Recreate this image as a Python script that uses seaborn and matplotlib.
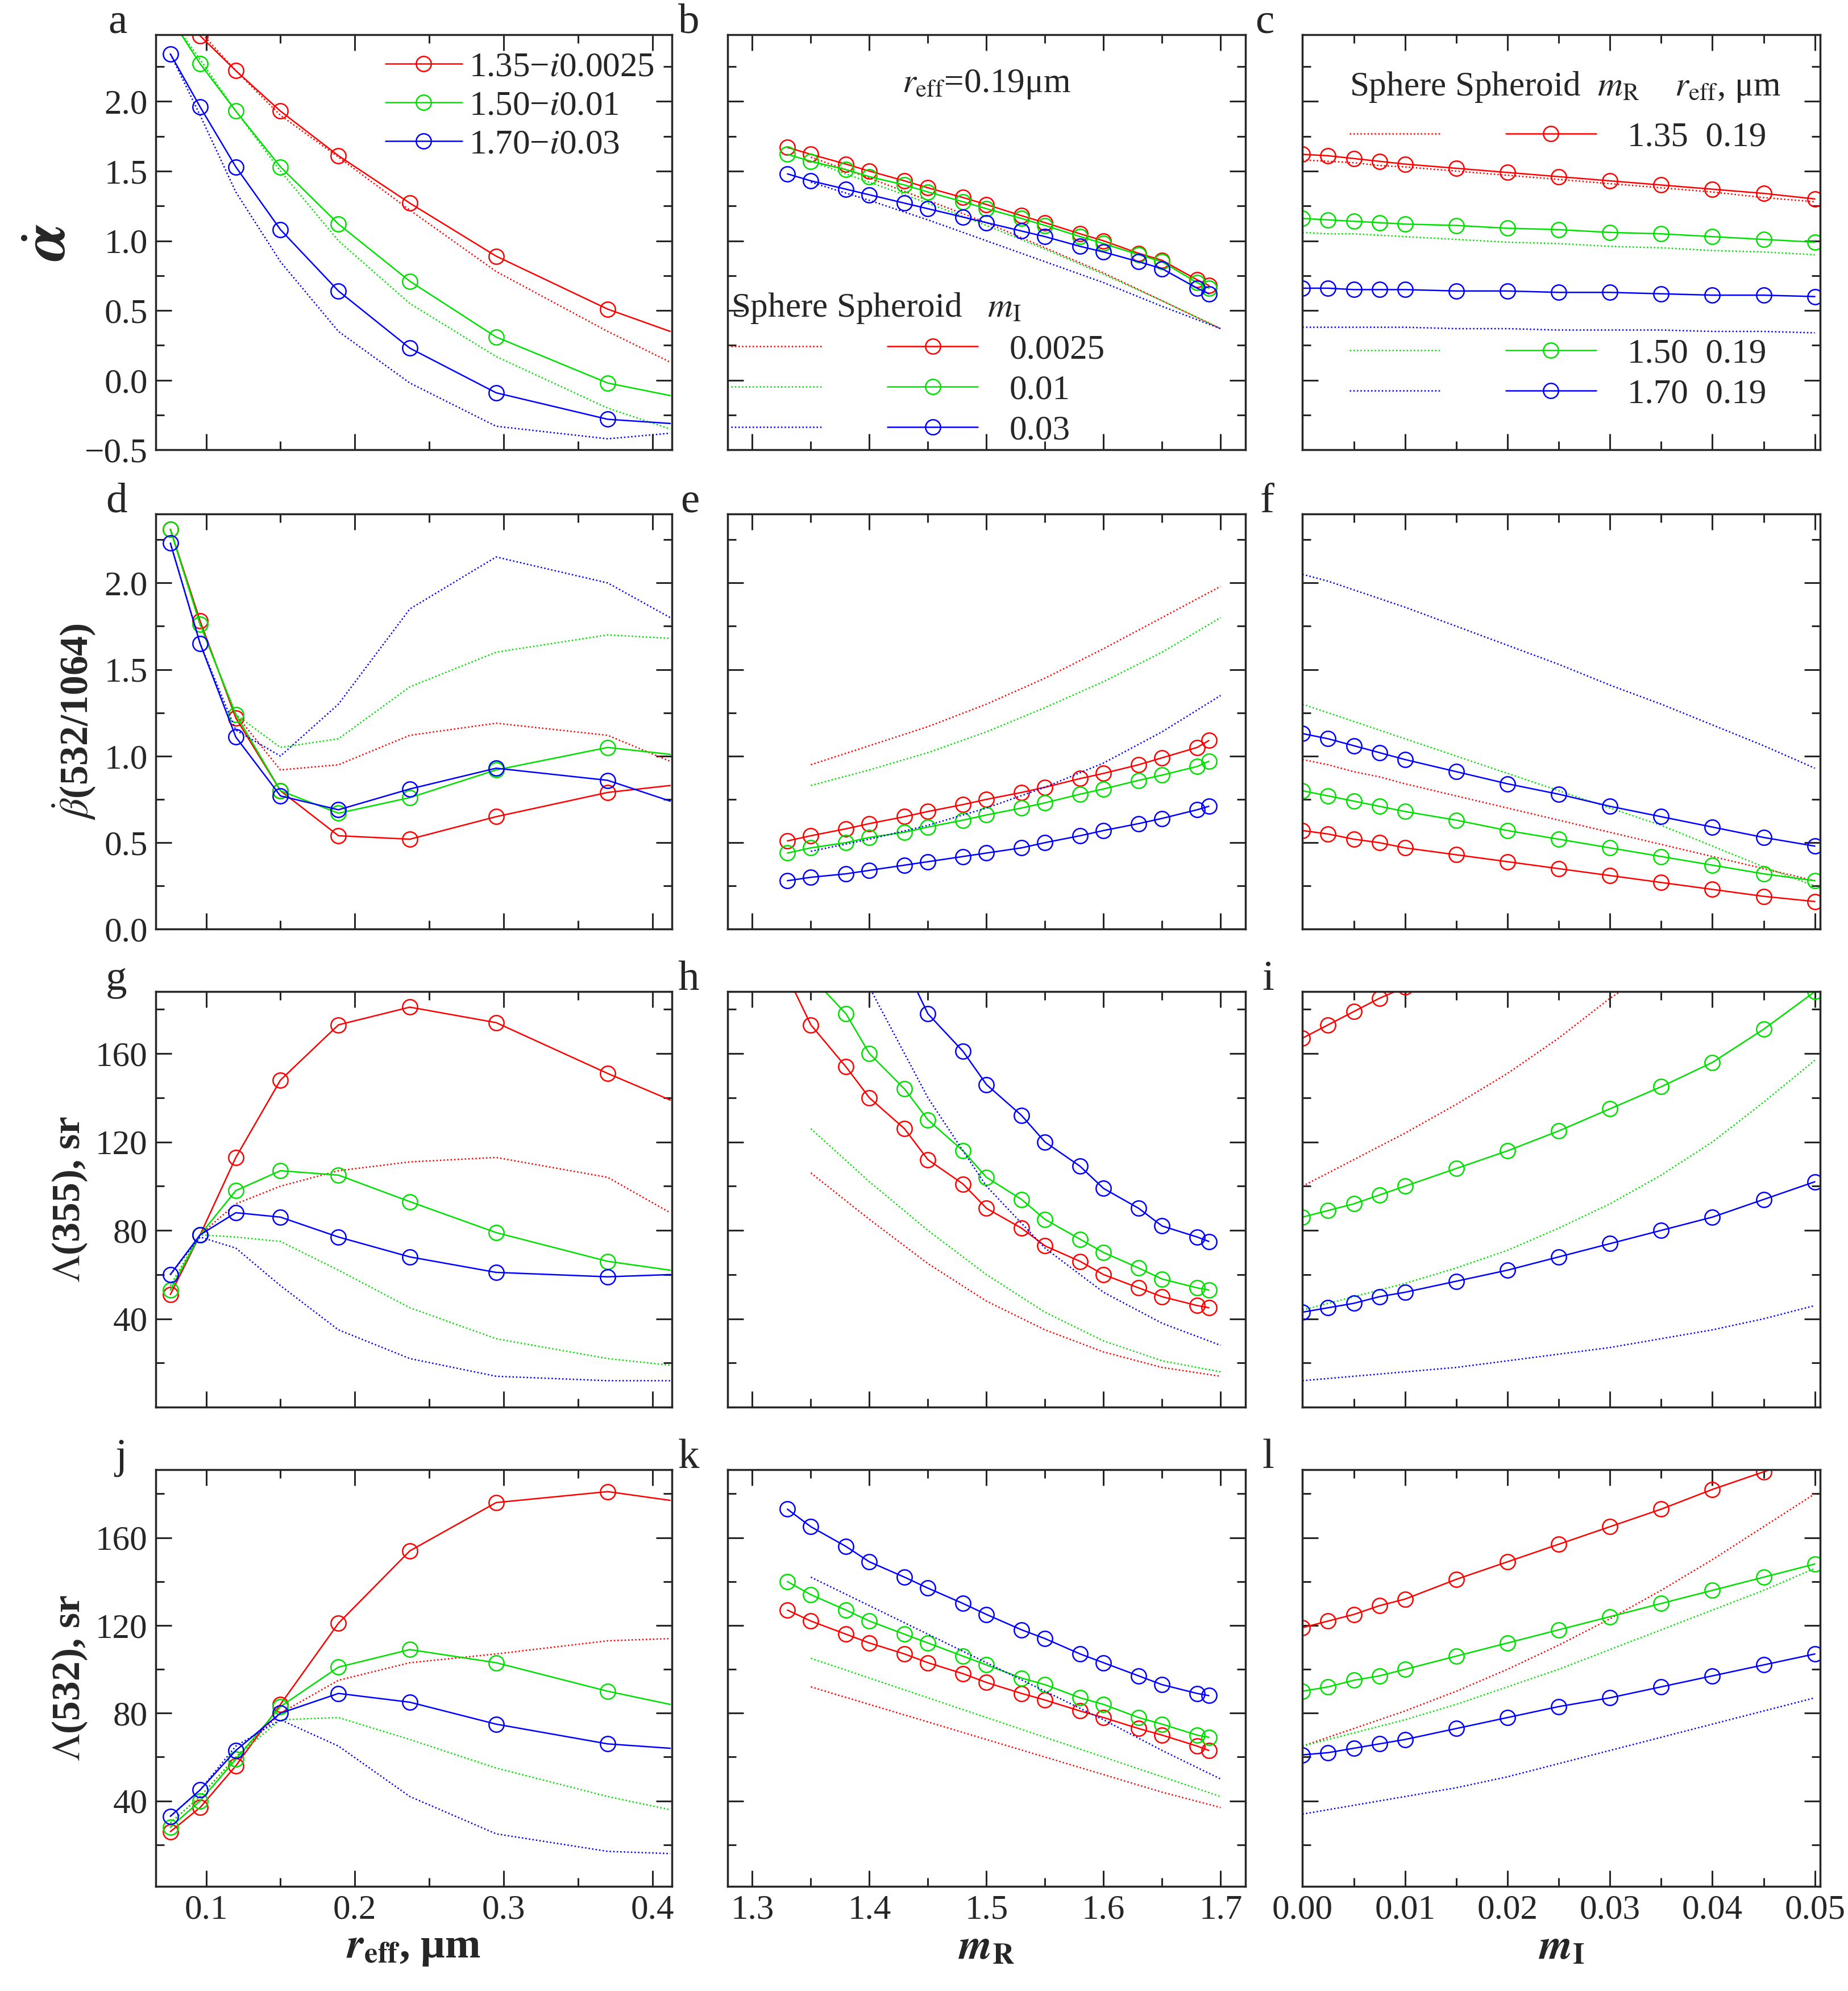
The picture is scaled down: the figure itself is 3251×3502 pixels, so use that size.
import numpy as np
import matplotlib
matplotlib.use("Agg")
import matplotlib.pyplot as plt
import seaborn as sns
from matplotlib.lines import Line2D
from matplotlib.ticker import AutoMinorLocator

# ---- data ----
r_eff = [0.076, 0.096, 0.12, 0.15, 0.189, 0.237, 0.295, 0.37, 0.412]
m_R = [1.33, 1.35, 1.38, 1.40, 1.43, 1.45, 1.48, 1.50, 1.53, 1.55, 1.58, 1.60, 1.63, 1.65, 1.68, 1.69]
m_R_dot = [1.35, 1.40, 1.45, 1.50, 1.55, 1.60, 1.65, 1.70]
m_I = [0.0, 0.0025, 0.005, 0.0075, 0.01, 0.015, 0.02, 0.025, 0.03, 0.035, 0.04, 0.045, 0.05]

# panel a: alpha vs r_eff (spheroid solid, sphere dotted)
a_sph = {"r": [2.75, 2.47, 2.22, 1.93, 1.61, 1.27, 0.89, 0.51, 0.35],
         "g": [2.60, 2.27, 1.93, 1.53, 1.12, 0.71, 0.31, -0.02, -0.11],
         "b": [2.34, 1.96, 1.53, 1.08, 0.64, 0.23, -0.09, -0.28, -0.31]}
a_sp = {"r": [2.75, 2.50, 2.22, 1.90, 1.60, 1.22, 0.78, 0.35, 0.13],
        "g": [2.60, 2.30, 1.93, 1.50, 1.00, 0.55, 0.17, -0.20, -0.35],
        "b": [2.34, 1.90, 1.35, 0.85, 0.35, -0.02, -0.33, -0.42, -0.38]}
# panel b: alpha vs m_R
b_sph = {"r": [1.67, 1.62, 1.55, 1.50, 1.43, 1.38, 1.31, 1.26, 1.18, 1.13, 1.05, 1.00, 0.91, 0.86, 0.72, 0.68],
         "g": [1.62, 1.57, 1.51, 1.46, 1.40, 1.35, 1.28, 1.23, 1.16, 1.11, 1.03, 0.98, 0.90, 0.85, 0.70, 0.66],
         "b": [1.48, 1.43, 1.37, 1.33, 1.27, 1.23, 1.17, 1.13, 1.07, 1.03, 0.96, 0.92, 0.85, 0.80, 0.66, 0.62]}
b_sp = {"r": [1.60, 1.45, 1.29, 1.13, 0.95, 0.77, 0.57, 0.37],
        "g": [1.57, 1.42, 1.27, 1.11, 0.94, 0.76, 0.57, 0.37],
        "b": [1.42, 1.29, 1.15, 1.00, 0.85, 0.70, 0.53, 0.37]}
# panel c: alpha vs m_I
c_sph = {"r": [1.62, 1.61, 1.59, 1.57, 1.55, 1.52, 1.49, 1.46, 1.43, 1.40, 1.37, 1.34, 1.30],
         "g": [1.16, 1.15, 1.14, 1.13, 1.12, 1.11, 1.09, 1.08, 1.06, 1.05, 1.03, 1.01, 0.99],
         "b": [0.66, 0.66, 0.65, 0.65, 0.65, 0.64, 0.64, 0.63, 0.63, 0.62, 0.61, 0.61, 0.60]}
c_sp = {"r": [1.58, 1.57, 1.56, 1.54, 1.53, 1.50, 1.47, 1.44, 1.41, 1.38, 1.35, 1.31, 1.28],
        "g": [1.06, 1.05, 1.05, 1.04, 1.03, 1.01, 0.99, 0.98, 0.96, 0.95, 0.93, 0.92, 0.90],
        "b": [0.38, 0.38, 0.38, 0.38, 0.38, 0.37, 0.37, 0.36, 0.36, 0.36, 0.35, 0.35, 0.34]}
# panel d: beta ratio vs r_eff
d_sph = {"r": [2.31, 1.78, 1.22, 0.80, 0.54, 0.52, 0.65, 0.79, 0.83],
         "g": [2.31, 1.76, 1.24, 0.80, 0.67, 0.76, 0.92, 1.05, 1.01],
         "b": [2.23, 1.65, 1.11, 0.77, 0.69, 0.81, 0.93, 0.86, 0.74]}
d_sp = {"r": [2.31, 1.76, 1.24, 0.92, 0.95, 1.12, 1.19, 1.12, 0.97],
        "g": [2.31, 1.76, 1.24, 1.05, 1.10, 1.40, 1.60, 1.70, 1.68],
        "b": [2.23, 1.65, 1.15, 1.00, 1.30, 1.85, 2.15, 2.00, 1.80]}
# panel e: beta ratio vs m_R
e_sph = {"r": [0.51, 0.54, 0.58, 0.61, 0.65, 0.68, 0.72, 0.75, 0.79, 0.82, 0.87, 0.90, 0.95, 0.99, 1.05, 1.09],
         "g": [0.44, 0.47, 0.50, 0.53, 0.56, 0.59, 0.63, 0.66, 0.70, 0.73, 0.78, 0.81, 0.86, 0.89, 0.94, 0.97],
         "b": [0.28, 0.30, 0.32, 0.34, 0.37, 0.39, 0.42, 0.44, 0.47, 0.50, 0.54, 0.57, 0.61, 0.64, 0.69, 0.71]}
e_sp = {"r": [0.95, 1.06, 1.17, 1.30, 1.45, 1.62, 1.80, 1.98],
        "g": [0.83, 0.92, 1.02, 1.14, 1.28, 1.43, 1.60, 1.80],
        "b": [0.45, 0.52, 0.60, 0.70, 0.82, 0.96, 1.14, 1.35]}
# panel f: beta ratio vs m_I
f_sph = {"r": [0.57, 0.55, 0.52, 0.50, 0.47, 0.43, 0.39, 0.35, 0.31, 0.27, 0.23, 0.19, 0.16],
         "g": [0.80, 0.77, 0.74, 0.71, 0.68, 0.63, 0.57, 0.52, 0.47, 0.42, 0.37, 0.32, 0.28],
         "b": [1.13, 1.10, 1.06, 1.02, 0.98, 0.91, 0.84, 0.78, 0.71, 0.65, 0.59, 0.53, 0.48]}
f_sp = {"r": [0.98, 0.95, 0.91, 0.88, 0.84, 0.77, 0.70, 0.63, 0.56, 0.49, 0.42, 0.35, 0.28],
        "g": [1.30, 1.25, 1.20, 1.15, 1.10, 1.00, 0.90, 0.80, 0.70, 0.60, 0.48, 0.36, 0.25],
        "b": [2.05, 2.01, 1.96, 1.91, 1.86, 1.75, 1.64, 1.53, 1.41, 1.30, 1.18, 1.06, 0.93]}
# panel g: lidar ratio 355 vs r_eff
g_sph = {"r": [51, 78, 113, 148, 173, 181, 174, 151, 139],
         "g": [53, 78, 98, 107, 105, 93, 79, 66, 62],
         "b": [60, 78, 88, 86, 77, 68, 61, 59, 60]}
g_sp = {"r": [55, 78, 92, 100, 107, 111, 113, 104, 88],
        "g": [55, 78, 77, 75, 62, 45, 31, 22, 19],
        "b": [60, 77, 72, 55, 35, 22, 14, 12, 12]}
# panel h: lidar ratio 355 vs m_R
h_sph = {"r": [195, 173, 154, 140, 126, 112, 101, 90, 81, 73, 66, 60, 54, 50, 46, 45],
         "g": [215, 195, 178, 160, 144, 130, 116, 104, 94, 85, 76, 70, 63, 58, 54, 53],
         "b": [290, 270, 245, 225, 200, 178, 161, 146, 132, 120, 109, 99, 90, 82, 77, 75]}
h_sp = {"r": [106, 85, 65, 48, 35, 25, 18, 14],
        "g": [126, 102, 80, 60, 43, 30, 21, 16],
        "b": [240, 190, 140, 100, 72, 52, 38, 28]}
# panel i: lidar ratio 355 vs m_I
i_sph = {"r": [167, 173, 179, 185, 190, 200, 210, 220, 231, 242, 253, 264, 275],
         "g": [86, 89, 92, 96, 100, 108, 116, 125, 135, 145, 156, 171, 188],
         "b": [43, 45, 47, 50, 52, 57, 62, 68, 74, 80, 86, 94, 102]}
i_sp = {"r": [100, 106, 112, 118, 124, 137, 151, 167, 185, 200, 215, 228, 240],
        "g": [44, 47, 50, 53, 56, 63, 71, 81, 92, 105, 120, 138, 157],
        "b": [12, 13, 14, 15, 16, 18, 21, 24, 27, 31, 35, 40, 46]}
# panel j: lidar ratio 532 vs r_eff
j_sph = {"r": [26, 37, 56, 84, 121, 154, 176, 181, 177],
         "g": [28, 40, 59, 83, 101, 109, 103, 90, 84],
         "b": [33, 45, 63, 80, 89, 85, 75, 66, 64]}
j_sp = {"r": [30, 42, 60, 80, 95, 103, 107, 113, 114],
        "g": [30, 42, 60, 77, 78, 68, 55, 42, 36],
        "b": [33, 45, 65, 77, 65, 42, 25, 17, 16]}
# panel k: lidar ratio 532 vs m_R
k_sph = {"r": [127, 122, 116, 112, 107, 103, 98, 94, 89, 86, 81, 78, 73, 70, 65, 63],
         "g": [140, 134, 127, 122, 116, 112, 106, 102, 96, 93, 87, 84, 78, 75, 70, 69],
         "b": [173, 165, 156, 149, 142, 137, 130, 125, 118, 114, 107, 103, 97, 93, 89, 88]}
k_sp = {"r": [92, 84, 76, 68, 60, 52, 44, 37],
        "g": [105, 96, 87, 78, 69, 60, 51, 42],
        "b": [142, 129, 116, 103, 90, 77, 63, 50]}
# panel l: lidar ratio 532 vs m_I
l_sph = {"r": [119, 122, 125, 129, 132, 141, 149, 157, 165, 173, 182, 190, 198],
         "g": [90, 92, 95, 97, 100, 106, 112, 118, 124, 130, 136, 142, 148],
         "b": [61, 62, 64, 66, 68, 73, 78, 83, 87, 92, 97, 102, 107]}
l_sp = {"r": [65, 69, 73, 77, 81, 90, 100, 111, 123, 136, 150, 165, 180],
        "g": [65, 68, 71, 74, 77, 84, 92, 100, 109, 118, 127, 136, 146],
        "b": [34, 36, 38, 40, 42, 46, 51, 57, 63, 69, 75, 81, 87]}

legend_a = ["1.35\u2212$i$0.0025", "1.50\u2212$i$0.01", "1.70\u2212$i$0.03"]
legend_b = ["0.0025", "0.01", "0.03"]
legend_c = ["1.35  0.19", "1.50  0.19", "1.70  0.19"]

# ---- style ----
sns.set_style("ticks")
plt.rcParams["font.family"] = ["Liberation Serif", "DejaVu Serif"]
plt.rcParams["mathtext.fontset"] = "stix"
plt.rcParams["xtick.direction"] = "in"
plt.rcParams["ytick.direction"] = "in"

COL = {"r": "#ff0000", "g": "#00e000", "b": "#0000ff"}
LW = 1.8
MS = 19
FS = 44

W, H = 1450, 1562
fig = plt.figure(figsize=(32.51, 35.02), dpi=100)
cols = [(122, 527), (571, 977), (1022, 1428)]
rows = [(27, 353), (403, 729), (778, 1104), (1153, 1480)]

xdata = [r_eff, m_R, m_I]
xdot = [r_eff, m_R_dot, m_I]
xlims = [(0.066, 0.413), (1.279, 1.721), (0.0, 0.0505)]
xticks = [[0.1, 0.2, 0.3, 0.4], [1.3, 1.4, 1.5, 1.6, 1.7],
          [0.0, 0.01, 0.02, 0.03, 0.04, 0.05]]
xticklabels = [["0.1", "0.2", "0.3", "0.4"], ["1.3", "1.4", "1.5", "1.6", "1.7"],
               ["0.00", "0.01", "0.02", "0.03", "0.04", "0.05"]]
ylims = [(-0.49, 2.48), (0.0, 2.4), (0.0, 188), (1, 191)]
yticks = [[-0.5, 0.0, 0.5, 1.0, 1.5, 2.0], [0.0, 0.5, 1.0, 1.5, 2.0],
          [40, 80, 120, 160], [40, 80, 120, 160]]
yfmt = ["{:.1f}", "{:.1f}", "{:d}", "{:d}"]
ylabels = [r"$\dot{\boldsymbol{\alpha}}$", r"$\dot{\beta}$(532/1064)",
           r"$\Lambda$(355), sr", r"$\Lambda$(532), sr"]
ylsize = [80, 50, 50, 50]
xlabels = [r"$\boldsymbol{r}_{\mathbf{eff}}$, μm", r"$\boldsymbol{m}_{\mathbf{R}}$",
           r"$\boldsymbol{m}_{\mathbf{I}}$"]
sph = [[a_sph, b_sph, c_sph], [d_sph, e_sph, f_sph], [g_sph, h_sph, i_sph], [j_sph, k_sph, l_sph]]
sp = [[a_sp, b_sp, c_sp], [d_sp, e_sp, f_sp], [g_sp, h_sp, i_sp], [j_sp, k_sp, l_sp]]
letters = "abcdefghijkl"

axes = {}
for ri, (y0, y1) in enumerate(rows):
    for ci, (x0, x1) in enumerate(cols):
        ax = fig.add_axes([x0 / W, 1 - y1 / H, (x1 - x0) / W, (y1 - y0) / H])
        axes[(ri, ci)] = ax
        for k in ["r", "g", "b"]:
            sns.lineplot(x=xdot[ci], y=sp[ri][ci][k], ax=ax, color=COL[k], lw=LW,
                         linestyle=(0, (1, 1.5)), sort=False)
            me = slice(0, 8) if ci == 0 else None
            sns.lineplot(x=xdata[ci], y=sph[ri][ci][k], ax=ax, color=COL[k], lw=LW,
                         marker="o", markersize=MS, markerfacecolor="none",
                         markeredgecolor=COL[k], markeredgewidth=LW, markevery=me,
                         sort=False)
        ax.set_xlim(*xlims[ci])
        ax.set_ylim(*ylims[ri])
        ax.set_xticks(xticks[ci])
        ax.set_yticks(yticks[ri])
        ax.xaxis.set_minor_locator(AutoMinorLocator(2))
        ax.yaxis.set_minor_locator(AutoMinorLocator(2))
        ax.tick_params(which="major", top=True, right=True, length=20, width=2.2,
                       labelsize=FS, pad=10)
        ax.tick_params(which="minor", top=True, right=True, length=11, width=2.2)
        if ri == 3:
            ax.set_xticklabels(xticklabels[ci])
            ax.set_xlabel(xlabels[ci], fontsize=54, fontweight="bold", labelpad=4)
        else:
            ax.set_xticklabels([])
        if ci == 0:
            ax.set_yticklabels([yfmt[ri].format(v).replace("-", "\u2212") for v in yticks[ri]])
            ax.set_ylabel(ylabels[ri], fontsize=ylsize[ri], fontweight="bold", labelpad=8)
        else:
            ax.set_yticklabels([])
        for s in ax.spines.values():
            s.set_linewidth(2.5)
            s.set_visible(True)
        ax.text(-0.055, 1.004, letters[ri * 3 + ci], transform=ax.transAxes,
                fontsize=54, ha="right", va="baseline")


def solid(k):
    return Line2D([], [], color=COL[k], lw=LW, marker="o", markersize=MS,
                  markerfacecolor="none", markeredgewidth=LW)


def dotted(k):
    return Line2D([], [], color=COL[k], lw=LW, linestyle=(0, (1, 1.5)))


# legend panel a
axa = axes[(0, 0)]
axa.legend([solid(k) for k in "rgb"], legend_a, loc="upper right", frameon=False,
           fontsize=FS, handlelength=2.2, handletextpad=0.2, borderaxespad=0.1,
           labelspacing=0.2)

# panel b
axb = axes[(0, 1)]
axb.text(0.5, 0.88, r"$r_{\rm eff}$=0.19μm", transform=axb.transAxes, ha="center",
         va="center", fontsize=FS)
leg = axb.legend([dotted(k) for k in "rgb"] + [solid(k) for k in "rgb"],
                 ["", "", ""] + legend_b, ncol=2, loc="lower left", frameon=False,
                 fontsize=FS, handlelength=2.6, columnspacing=1.0, handletextpad=0.9,
                 labelspacing=0.25, borderaxespad=0.0, borderpad=0.1,
                 title="Sphere Spheroid   $m_{\\rm I}$", title_fontsize=FS)
leg._legend_box.align = "left"

# panel c
axc = axes[(0, 2)]
leg1 = axc.legend([dotted("r"), solid("r")], ["", legend_c[0]], ncol=2, loc="upper left",
                  bbox_to_anchor=(0.03, 0.99), frameon=False, fontsize=FS,
                  handlelength=2.6, columnspacing=1.0, handletextpad=0.9,
                  title="Sphere Spheroid  $m_{\\rm R}$    $r_{\\rm eff}$, μm",
                  title_fontsize=FS)
leg1._legend_box.align = "left"
axc.add_artist(leg1)
axc.legend([dotted("g"), dotted("b"), solid("g"), solid("b")],
           ["", "", legend_c[1], legend_c[2]], ncol=2, loc="lower left",
           bbox_to_anchor=(0.03, 0.02), frameon=False, fontsize=FS,
           handlelength=2.6, columnspacing=1.0, handletextpad=0.9, labelspacing=0.25)

fig.savefig("out.png", dpi=100)
